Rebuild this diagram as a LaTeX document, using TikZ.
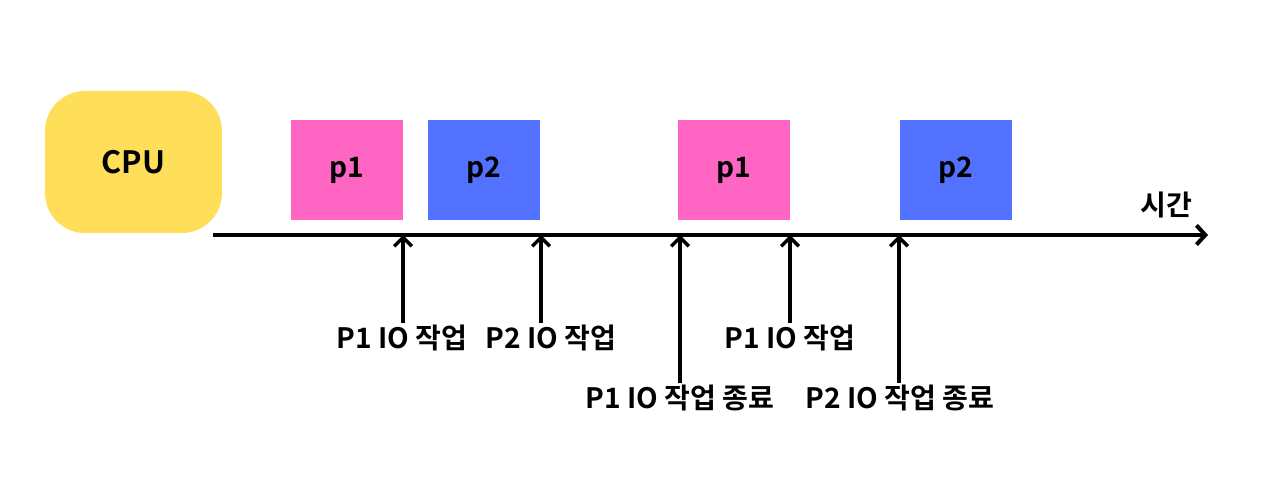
\documentclass[tikz,border=0pt]{standalone}
\usepackage{fontspec}
\newfontfamily\krfont{Noto Sans CJK KR}[BoldFont={* Bold}]
\usetikzlibrary{arrows.meta}
\usetikzlibrary{shapes}

\definecolor{cpuyellow}{HTML}{FFDE59}
\definecolor{ppink}{HTML}{FF66C4}
\definecolor{pblue}{HTML}{5271FF}

\begin{document}
\begin{tikzpicture}[x=0.02cm,y=-0.02cm,
    proc/.style={minimum width=2.24cm,minimum height=2.02cm,inner sep=0pt,
      font=\krfont\bfseries\fontsize{16}{19}\selectfont},
    evt/.style={inner sep=1pt,font=\krfont\bfseries\fontsize{16}{19}\selectfont},
    tick/.style={line width=2pt,-{Straight Barb[length=5pt,width=10pt,line width=2pt]}}]
 			\useasboundingbox (0,0) rectangle (1280,496);
 			\path (133.5,162) node(cpu)
 				[fill=cpuyellow,rounded corners=0.8cm,minimum width=3.54cm,minimum height=2.84cm,
 				 font=\krfont\bfseries\fontsize{17.5}{20}\selectfont] {CPU};
 			% process boxes
 			\path (347,170) node(run1)[proc,fill=ppink] {p1};
 			\path (484,170) node(run2)[proc,fill=pblue] {p2};
 			\path (734,170) node(run3)[proc,fill=ppink] {p1};
 			\path (956,170) node(run4)[proc,fill=pblue] {p2};
 			%% Time axis
 			\coordinate (tstart) at (213,235);
 			\coordinate (tend) at (1208,235);
 			\draw[line width=2.3pt,-{Straight Barb[length=5pt,width=11pt,line width=2.3pt]}] (tstart) -- (tend);
 			\path (1166,205) node(time)[evt] {시간};
 			%% Event labels
 			\path (402,338) node(ev1)[evt] {P1 IO 작업};
 			\path (551,338) node(ev2)[evt] {P2 IO 작업};
 			\path (680,398) node(ev3)[evt] {P1 IO 작업 종료};
 			\path (790,338) node(ev4)[evt] {P1 IO 작업};
 			\path (900,398) node(ev5)[evt] {P2 IO 작업 종료};
 			\coordinate (t1) at (403,235);
 			\coordinate (t2) at (541,235);
 			\coordinate (t3) at (680,235);
 			\coordinate (t4) at (790,235);
 			\coordinate (t5) at (899,235);
 			\draw[tick] (ev1.north -| t1) -- (t1);
 			\draw[tick] (ev2.north -| t2) -- (t2);
 			\draw[tick] (ev3.north -| t3) -- (t3);
 			\draw[tick] (ev4.north -| t4) -- (t4);
 			\draw[tick] (ev5.north -| t5) -- (t5);
 		\end{tikzpicture}
\end{document}
